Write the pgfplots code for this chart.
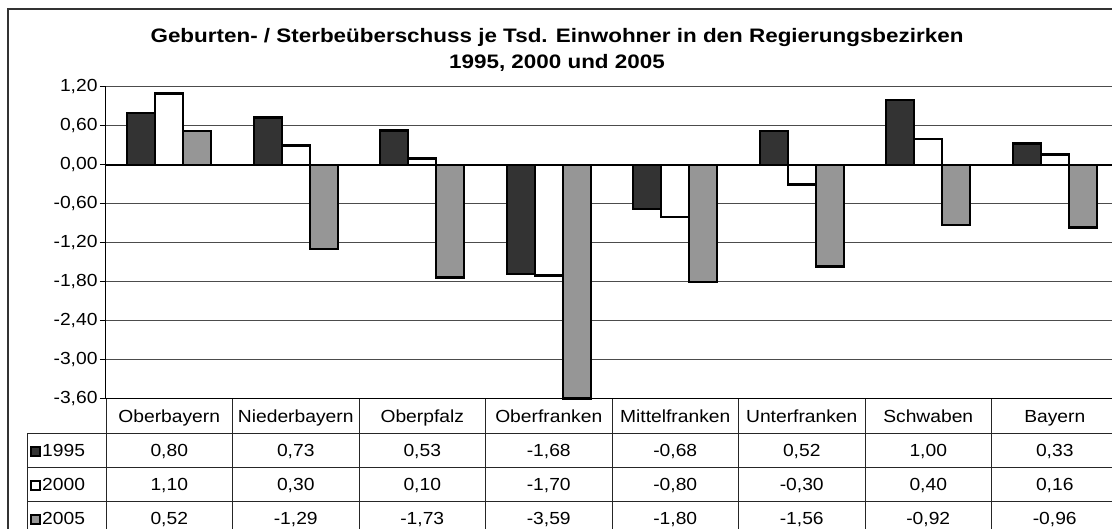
\documentclass[border=0pt]{standalone}
\usepackage{pgfplots}
\pgfplotsset{compat=1.18}
\usepackage{fontspec}
\setmainfont{Liberation Sans}
\usepackage{graphicx}
\newcommand{\sx}[1]{\scalebox{1.1}[1]{#1}}
\definecolor{cA}{HTML}{333333}
\definecolor{cC}{HTML}{969696}
\begin{document}
\begin{tikzpicture}[x=1pt,y=1pt]
\useasboundingbox (0,0) rectangle (1112,529);
\fill[white] (0,0) rectangle (1112,529);
\clip (0,0) rectangle (1112,529);
\draw[black!80, line width=1.5pt] (8,520) rectangle (1140,-20);
\node[font=\fontsize{19.5}{23}\selectfont\bfseries] at (557,491) {\scalebox{1.15}[1]{Geburten- / Sterbeüberschuss je Tsd. Einwohner in den Regierungsbezirken}};
\node[font=\fontsize{19.5}{23}\selectfont\bfseries] at (557,466) {\scalebox{1.15}[1]{1995, 2000 und 2005}};
\begin{axis}[
  at={(106pt,130pt)}, anchor=south west, scale only axis,
  width=1012pt, height=312pt,
  xmin=-0.5, xmax=7.5, ymin=-3.6, ymax=1.2,
  axis x line*=bottom, axis y line*=left,
  axis line style={black, line width=1pt},
  xtick=\empty,
  ytick={-3.6,-3.0,-2.4,-1.8,-1.2,-0.6,0,0.6,1.2},
  yticklabels={\sx{-3,60},\sx{-3,00},\sx{-2,40},\sx{-1,80},\sx{-1,20},\sx{-0,60},\sx{0,00},\sx{0,60},\sx{1,20}},
  yticklabel style={font=\fontsize{17.5}{20}\selectfont, anchor=east, xshift=1pt},
  tick align=outside, major tick length=6pt,
  tick style={black, line width=1pt},
  ymajorgrids, grid style={black!70, line width=1pt},
  ybar=0pt, bar width=28pt,
  clip=false,
]
\addplot[draw=black, line width=2.4pt, fill=cA] coordinates {(0,0.80) (1,0.73) (2,0.53) (3,-1.68) (4,-0.68) (5,0.52) (6,1.00) (7,0.33)};
\addplot[draw=black, line width=2.4pt, fill=white] coordinates {(0,1.10) (1,0.30) (2,0.10) (3,-1.70) (4,-0.80) (5,-0.30) (6,0.40) (7,0.16)};
\addplot[draw=black, line width=2.4pt, fill=cC] coordinates {(0,0.52) (1,-1.29) (2,-1.73) (3,-3.59) (4,-1.80) (5,-1.56) (6,-0.92) (7,-0.96)};
\draw[black, line width=1.2pt] (axis cs:-0.5,0) -- (axis cs:7.5,0);
\end{axis}
% data table
\begin{scope}[black!85, line width=1pt]
\foreach \i in {0,...,8} {\draw (106+126.5*\i,130) -- (106+126.5*\i,-10);}
\draw (27,95) -- (27,-10);
\foreach \yy in {95,61,27} {\draw (27,\yy) -- (1130,\yy);}
\end{scope}
\begin{scope}[font=\fontsize{17.5}{20}\selectfont]
\foreach \n [count=\i from 0] in {Oberbayern,Niederbayern,Oberpfalz,Oberfranken,Mittelfranken,Unterfranken,Schwaben,Bayern}
  {\node[anchor=base, inner sep=0pt] at (169.25+126.5*\i,106) {\sx{\n}};}
\foreach \v [count=\i from 0] in {0{,}80,0{,}73,0{,}53,-1{,}68,-0{,}68,0{,}52,1{,}00,0{,}33}
  {\node[anchor=base, inner sep=0pt] at (169.25+126.5*\i,72) {\sx{\v}};}
\foreach \v [count=\i from 0] in {1{,}10,0{,}30,0{,}10,-1{,}70,-0{,}80,-0{,}30,0{,}40,0{,}16}
  {\node[anchor=base, inner sep=0pt] at (169.25+126.5*\i,38) {\sx{\v}};}
\foreach \v [count=\i from 0] in {0{,}52,-1{,}29,-1{,}73,-3{,}59,-1{,}80,-1{,}56,-0{,}92,-0{,}96}
  {\node[anchor=base, inner sep=0pt] at (169.25+126.5*\i,4) {\sx{\v}};}
\filldraw[fill=cA, draw=black, line width=1.5pt] (31,73) rectangle (40,82);
\filldraw[fill=white, draw=black, line width=1.5pt] (31,39) rectangle (40,48);
\filldraw[fill=cC, draw=black, line width=1.5pt] (31,5) rectangle (40,14);
\node[anchor=base west, inner sep=0pt] at (42,72) {\sx{1995}};
\node[anchor=base west, inner sep=0pt] at (42,38) {\sx{2000}};
\node[anchor=base west, inner sep=0pt] at (42,4) {\sx{2005}};
\end{scope}
\end{tikzpicture}
\end{document}
